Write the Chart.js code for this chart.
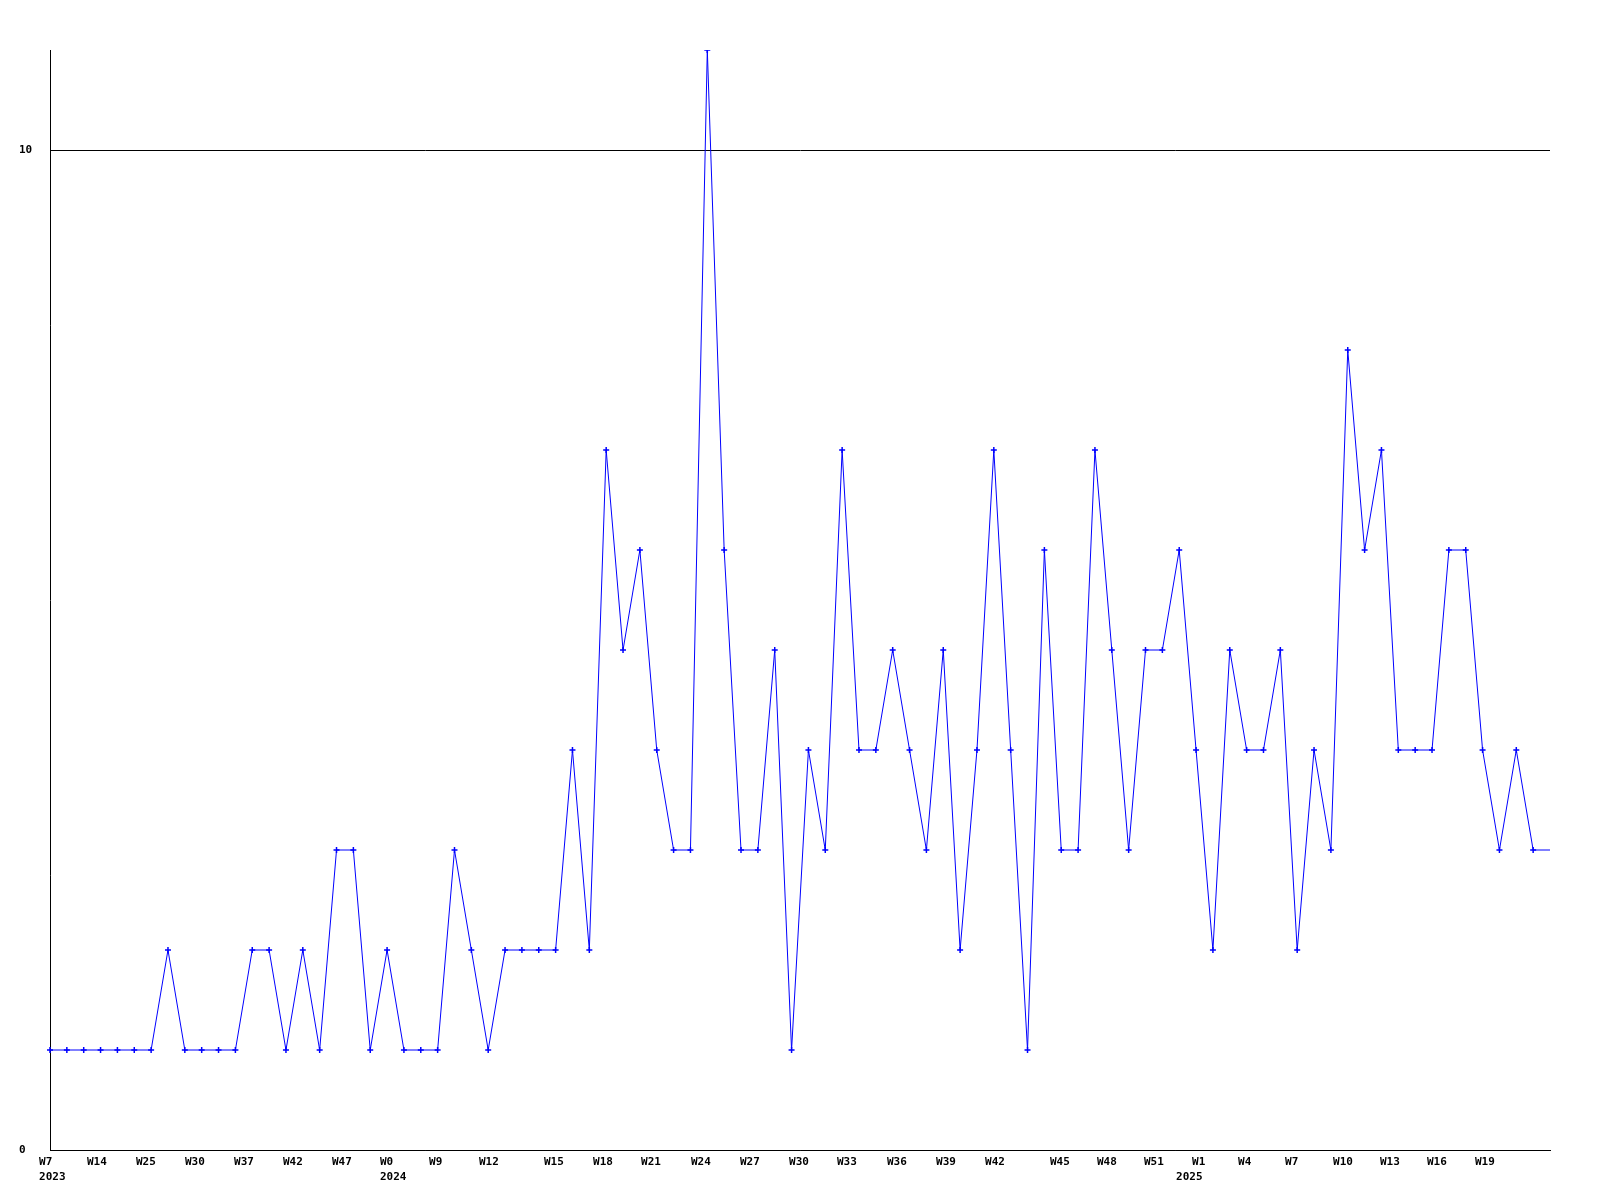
<!DOCTYPE html>
<html>
<head>
<meta charset="utf-8">
<script src="https://cdn.jsdelivr.net/npm/chart.js@4.4.1/dist/chart.umd.min.js"></script>
<style>
body { margin: 0; background: #fff; }
#wrap { width: 1600px; height: 1200px; }
</style>
</head>
<body>
<div id="wrap"><canvas id="weekChart" width="1600" height="1200"></canvas></div>
<script>
// 每周数值
const weekValues = [
    1, 1, 1, 1, 1, 1, 1, 2, 1, 1,
    1, 1, 2, 2, 1, 2, 1, 3, 3, 1,
    2, 1, 1, 1, 3, 2, 1, 2, 2, 2,
    2, 4, 2, 7, 5, 6, 4, 3, 3, 11,
    6, 3, 3, 5, 1, 4, 3, 7, 4, 4,
    5, 4, 3, 5, 2, 4, 7, 4, 1, 6,
    3, 3, 7, 5, 3, 5, 5, 6, 4, 2,
    5, 4, 4, 5, 2, 4, 3, 8, 6, 7,
    4, 4, 4, 6, 6, 4, 3, 4, 3, 3
];

// 周标签，以及它们在数据点序号上的位置
const weekTickLabels = ['W7', 'W14', 'W25', 'W30', 'W37', 'W42', 'W47', 'W0', 'W9', 'W12',
    'W15', 'W18', 'W21', 'W24', 'W27', 'W30', 'W33', 'W36', 'W39', 'W42',
    'W45', 'W48', 'W51', 'W1', 'W4', 'W7', 'W10', 'W13', 'W16', 'W19'];
const weekTickAt = [-0.65, 2.19, 5.10, 8.01, 10.92, 13.82, 16.73, 19.58, 22.49, 25.45,
    29.31, 32.22, 35.07, 38.03, 40.94, 43.85, 46.69, 49.66, 52.57, 55.48,
    59.33, 62.12, 64.91, 67.76, 70.49, 73.28, 76.13, 78.91, 81.70, 84.55];

// 年份标签
const yearTickLabels = ['2023', '2024', '2025'];
const yearTickAt = [-0.65, 19.58, 66.81];

// y轴刻度
const yTickValues = [0, 10];

const TICK_FONT = { family: "'DejaVu Sans Mono', monospace", size: 11, weight: 'bold', lineHeight: '13px' };
const lastIndex = weekValues.length - 1;

// 用固定数组替换自动刻度
function fixedTicks(values) {
    return scale => { scale.ticks = values.map(v => ({ value: v })); };
}

// 底部文字轴
function labelAxis(weight, at, labels, padding, height) {
    return {
        type: 'linear',
        position: 'bottom',
        min: 0,
        max: lastIndex,
        weight: weight,
        grid: { display: false, drawTicks: false },
        border: { display: false },
        afterBuildTicks: fixedTicks(at),
        ticks: {
            autoSkip: false,
            align: 'start',
            maxRotation: 0,
            padding: padding,
            color: '#000',
            font: TICK_FONT,
            callback: (v, i) => labels[i]
        },
        afterFit: s => { s.height = height; }
    };
}

new Chart(document.getElementById('weekChart'), {
    type: 'line',
    data: {
        labels: weekValues.map((v, i) => i),
        datasets: [{
            data: weekValues,
            borderColor: '#0000ff',
            backgroundColor: '#0000ff',
            borderWidth: 1,
            tension: 0,
            pointStyle: 'cross',
            pointRadius: ctx => ctx.dataIndex === lastIndex ? 0 : 3,
            pointBorderWidth: 1.5,
            pointHoverRadius: 0
        }]
    },
    options: {
        responsive: false,
        animation: false,
        events: [],
        layout: { padding: { left: 19, top: 50, right: 50, bottom: 16 } },
        plugins: { legend: { display: false }, tooltip: { enabled: false } },
        scales: {
            x: {
                type: 'category',
                offset: false,
                weight: 0,
                grid: { display: false, drawTicks: false },
                border: { display: true, color: '#000', width: 1 },
                ticks: { display: false },
                afterFit: s => { s.height = 0; }
            },
            xWeek: labelAxis(1, weekTickAt, weekTickLabels, 6, 19),
            xYear: labelAxis(2, yearTickAt, yearTickLabels, 2, 15),
            y: {
                min: 0,
                max: 11,
                grid: { color: '#000', lineWidth: 1, drawTicks: false },
                border: { display: true, color: '#000', width: 1 },
                afterBuildTicks: fixedTicks(yTickValues),
                ticks: { crossAlign: 'far', padding: 0, color: '#000', font: TICK_FONT },
                afterFit: s => { s.width = 31; }
            }
        }
    }
});
</script>
</body>
</html>
